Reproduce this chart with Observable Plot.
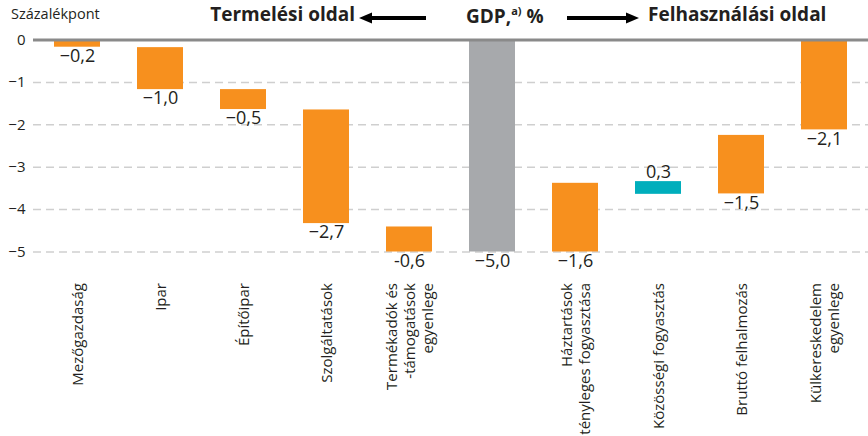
<!DOCTYPE html>
<html><head><meta charset="utf-8">
<script src="https://cdn.jsdelivr.net/npm/d3@7"></script>
<script src="https://cdn.jsdelivr.net/npm/@observablehq/plot@0.6"></script>
<style>
body{margin:0;background:#fff;font-family:"Open Sans",sans-serif;color:#231f20}
#wrap{position:relative;width:868px;height:436px;overflow:hidden}
#chart{position:absolute;left:0;top:0}
.t{position:absolute;white-space:nowrap;line-height:1}
.b{font-size:19px;font-weight:700}
</style></head><body>
<div id="wrap">
<div id="chart"></div>
<div class="t" style="left:11px;top:7px;font-size:14.5px">Százalékpont</div>
<div class="t b" style="right:513px;top:5px">Termelési oldal</div>
<svg class="t" style="left:359px;top:11px" width="68" height="14"><line x1="10" y1="7" x2="67" y2="7" stroke="#000" stroke-width="4"/><polygon points="0,7 13,1.5 13,12.5" fill="#000"/></svg>
<div class="t b" style="left:466px;top:5px">GDP,<sup style="font-size:11px;vertical-align:8px">a)</sup> %</div>
<svg class="t" style="left:567px;top:11px" width="72" height="14"><line x1="0" y1="7" x2="60" y2="7" stroke="#000" stroke-width="4"/><polygon points="72,7 59,1.5 59,12.5" fill="#000"/></svg>
<div class="t b" style="left:648px;top:5px">Felhasználási oldal</div>
</div>
<script>
const categories = ["Mezőgazdaság","Ipar","Építőipar","Szolgáltatások","Termékadók","GDP","Háztartások","Közösségi","Bruttó","Külkereskedelem"];
const axisLabels = ["Mezőgazdaság","Ipar","Építőipar","Szolgáltatások","Termékadók és\n-támogatások\negyenlege","","Háztartások\ntényleges fogyasztása","Közösségi fogyasztás","Bruttó felhalmozás","Külkereskedelem\negyenlege"];
const valueLabels = ["−0,2","−1,0","−0,5","−2,7","-0,6","−5,0","−1,6","0,3","−1,5","−2,1"];
const barFrom = [0, -0.18, -1.17, -1.65, -4.41, 0, -5.0, -3.64, -3.63, 0];
const barTo = [-0.17, -1.17, -1.64, -4.33, -5.0, -5.0, -3.38, -3.34, -2.25, -2.12];
const barKind = ["neg","neg","neg","neg","neg","gdp","neg","pos","neg","neg"];
const yTicks = [0, -1, -2, -3, -4, -5];

const rows = categories.map((c, i) => ({
  cat: c, from: barFrom[i], to: barTo[i], kind: barKind[i], label: valueLabels[i],
  low: Math.min(barFrom[i], barTo[i]), high: Math.max(barFrom[i], barTo[i])
}));

const chart = Plot.plot({
  width: 868, height: 436,
  marginTop: 39.5, marginBottom: 184.5, marginLeft: 33, marginRight: 0,
  style: {fontFamily: "'Open Sans', sans-serif", color: "#231f20", background: "transparent", overflow: "visible"},
  x: {domain: categories, paddingInner: 0.44, paddingOuter: 0.22, label: null},
  y: {domain: [-5, 0], label: null},
  color: {domain: ["neg", "gdp", "pos"], range: ["#F7901E", "#A7A9AC", "#00AEBC"]},
  marks: [
    Plot.gridY(yTicks.filter(d => d !== 0), {stroke: "#cfcfcf", strokeOpacity: 1, strokeWidth: 1.5, strokeDasharray: "8,5"}),
    Plot.barY(rows, {x: "cat", y1: "from", y2: "to", fill: "kind"}),
    Plot.ruleY([0], {stroke: "#8a8a8a", strokeWidth: 3}),
    Plot.axisY(yTicks, {tickSize: 0, tickPadding: 8, fontSize: 15, label: null,
      tickFormat: d => d === 0 ? "0" : "−" + Math.abs(d)}),
    Plot.axisX({tickSize: 0, tickPadding: 31, tickRotate: -90, fontSize: 15, lineHeight: 1.2, label: null,
      tickFormat: d => axisLabels[categories.indexOf(d)]}),
    Plot.text(rows.filter(d => d.kind !== "pos"), {x: "cat", y: "low", text: "label", lineAnchor: "top", dy: 2, fontSize: 18}),
    Plot.text(rows.filter(d => d.kind === "pos"), {x: "cat", y: "high", text: "label", lineAnchor: "bottom", dy: -4, fontSize: 18})
  ]
});
document.getElementById("chart").append(chart);
</script>
</body></html>
